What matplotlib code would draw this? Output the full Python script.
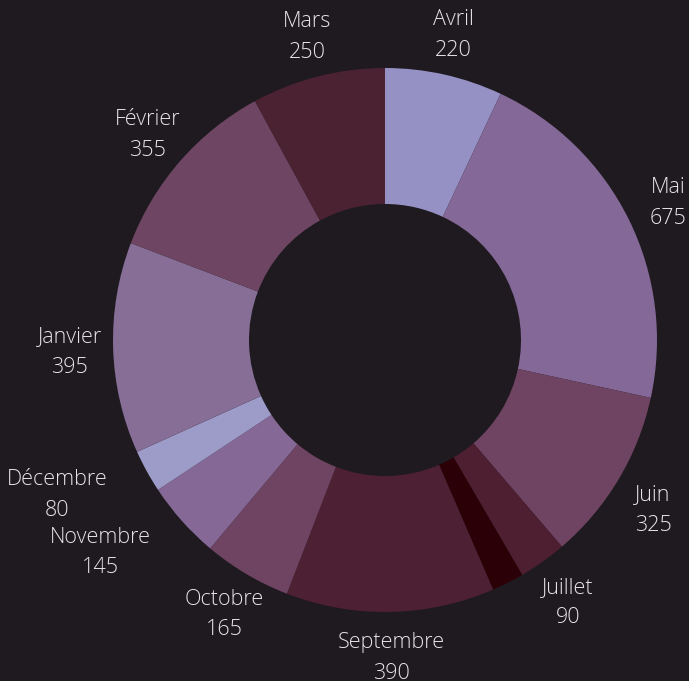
import matplotlib
matplotlib.use("Agg")
import matplotlib.pyplot as plt
import numpy as np

months = ["Avril", "Mai", "Juin", "Juillet", "Août", "Septembre", "Octobre",
          "Novembre", "Décembre", "Janvier", "Février", "Mars"]
values = [220, 675, 325, 90, 60, 390, 165, 145, 80, 395, 355, 250]
show_label = [True, True, True, True, False, True, True, True, True, True, True, True]
colors = ["#9591c5", "#846897", "#6e4462", "#4e1f31", "#2b0006", "#4d2033",
          "#6e4462", "#856896", "#9d9bc7", "#866e97", "#6e4562", "#4b2232"]

# label nudges (x, y) in axis units for crowded labels
nudges = {"Novembre": (-0.18, 0.0), "Décembre": (-0.19, 0.0),
          "Juin": (-0.01, -0.02), "Juillet": (0.0, -0.01)}

BG = "#1e1a1f"
fig = plt.figure(figsize=(6.89, 6.81), dpi=100, facecolor=BG)
ax = fig.add_axes([0, 0, 1, 1])
ax.set_facecolor(BG)
scale = 272.0
cx, cy = 385.0, 340.0

wedges, _ = ax.pie(values, colors=colors, startangle=90, counterclock=False,
                   radius=1.0, wedgeprops=dict(width=0.5, linewidth=0))
ax.set_xlim(-cx / scale, (689 - cx) / scale)
ax.set_ylim(-(681 - cy) / scale, cy / scale)
ax.set_aspect("equal")
ax.axis("off")

total = float(sum(values))
cum = 0.0
for name, v, show in zip(months, values, show_label):
    mid = 90 - (cum + v / 2) / total * 360
    cum += v
    if not show:
        continue
    r = 1.16
    x = r * np.cos(np.radians(mid))
    y = r * np.sin(np.radians(mid)) - 0.01
    dx, dy = nudges.get(name, (0, 0))
    ax.text(x + dx, y + dy, f"{name}\n{v}", ha="center", va="center",
            color="#e6e4e7", fontsize=15.5, family="Open Sans", fontweight="light",
            linespacing=1.6, clip_on=False)

fig.savefig("out.png", dpi=100, facecolor=BG)
